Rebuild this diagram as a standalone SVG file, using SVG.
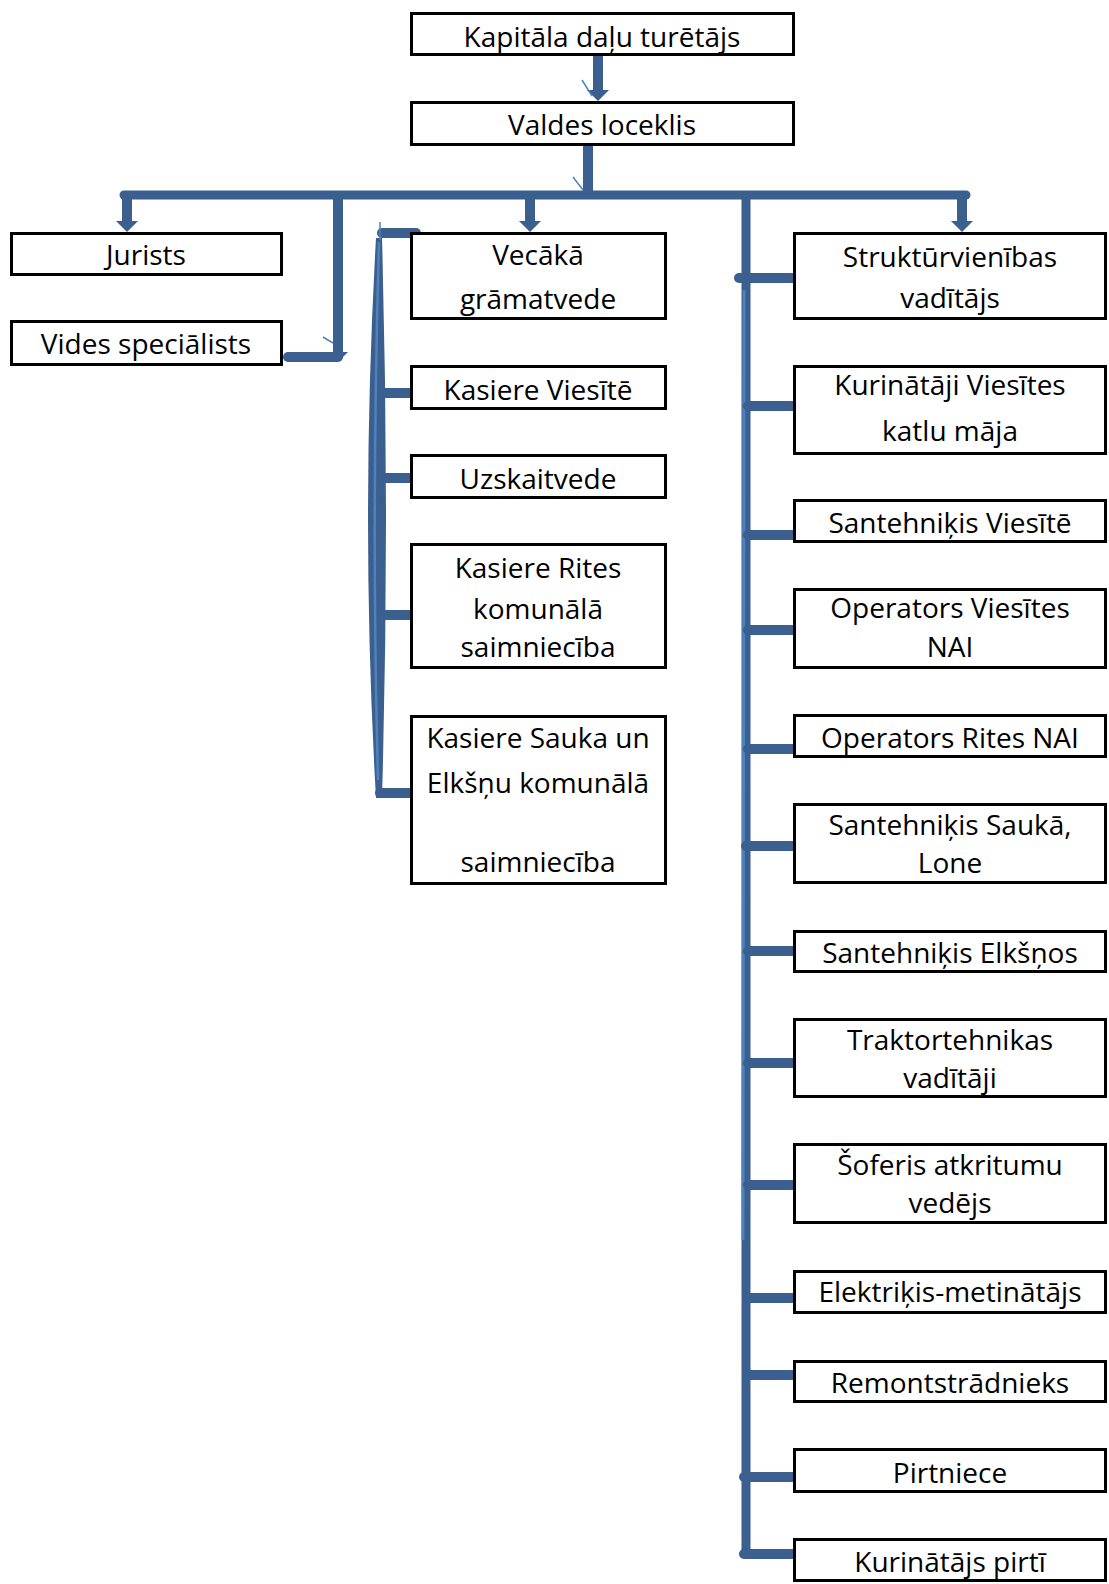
<svg xmlns="http://www.w3.org/2000/svg" width="1109" height="1584" viewBox="0 0 1109 1584">
<defs>
<style>
.box{fill:#fff;stroke:#000;stroke-width:3}
.t{font-family:"Open Sans","Noto Sans","Liberation Sans",sans-serif;font-size:28px;fill:#000;text-anchor:middle}
.c{fill:none;stroke:#3B5F8F;stroke-width:10;stroke-linecap:round}
.thin{fill:none;stroke:#4F81BD;stroke-width:1.5}
</style>
<marker id="ah" markerUnits="userSpaceOnUse" viewBox="0 0 11 22" markerWidth="11" markerHeight="22" refX="0" refY="11" orient="auto">
<path d="M0,0 L11,11 L0,22 Z" fill="#3B5F8F"/>
</marker>
</defs>
<rect width="1109" height="1584" fill="#fff"/>

<g id="connectors">
<path class="c" style="stroke-linecap:butt" d="M598,56 V90" marker-end="url(#ah)"/>
<path class="c" style="stroke-linecap:butt" d="M588,146 V196"/>
<path class="c" style="stroke-width:9" d="M124,195 H966"/>
<path class="c" style="stroke-linecap:butt" d="M127,195 V221" marker-end="url(#ah)"/>
<path class="c" style="stroke-linecap:butt" d="M530,195 V221" marker-end="url(#ah)"/>
<path class="c" style="stroke-linecap:butt" d="M962,195 V221" marker-end="url(#ah)"/>
<path class="c" style="stroke-linecap:butt" d="M338,195 V356"/>
<path class="c" d="M338,357 H288"/>
<path d="M329,352 L348,352 L338,362 Z" fill="#3B5F8F"/>
<path d="M376,238 Q360,520 376,798 L382,798 Q390,520 382,238 Z" fill="#3B5F8F"/>
<path class="thin" style="stroke-width:2.5" d="M379,242 Q371,520 378,780"/>
<path class="c" d="M416,233 H382"/>
<path class="c" d="M416,393 H383"/>
<path class="c" d="M416,478 H383"/>
<path class="c" d="M416,615 H382"/>
<path class="c" d="M416,793 H380"/>
<path class="c" style="stroke-width:9;stroke-linecap:butt" d="M746,195 V1558"/>
<path class="thin" style="stroke-width:3" d="M744,290 L743,1240"/>
<path class="c" d="M793,278 H739"/>
<path class="c" d="M793,406 H748"/>
<path class="c" d="M793,535 H748"/>
<path class="c" d="M793,630 H748"/>
<path class="c" d="M793,749 H748"/>
<path class="c" d="M793,846 H746"/>
<path class="c" d="M793,951 H748"/>
<path class="c" d="M793,1063 H748"/>
<path class="c" d="M793,1185 H748"/>
<path class="c" d="M793,1298 H748"/>
<path class="c" d="M793,1375 H748"/>
<path class="c" d="M793,1477 H744"/>
<path class="c" d="M793,1554 H744"/>
<path class="thin" d="M582,80 L592,96"/>
<path class="thin" d="M573,177 L583,190"/>
<path class="thin" d="M323,337 L333,343"/>
<path class="thin" d="M380,222 V240"/>
<path class="thin" d="M415,236 V260"/>
</g>

<g id="n-kapitala"><rect class="box" x="411.5" y="13.5" width="382" height="41"/><text class="t" x="602" y="47">Kapitāla daļu turētājs</text></g>
<g id="n-valdes"><rect class="box" x="411.5" y="102.5" width="382" height="42"/><text class="t" x="602" y="135">Valdes loceklis</text></g>
<g id="n-jurists"><rect class="box" x="11.5" y="233.5" width="270" height="41"/><text class="t" x="146" y="265">Jurists</text></g>
<g id="n-vides"><rect class="box" x="11.5" y="321.5" width="270" height="43"/><text class="t" x="146" y="354">Vides speciālists</text></g>

<g id="n-vecaka"><rect class="box" x="411.5" y="233.5" width="254" height="85"/><text class="t" x="538" y="265">Vecākā</text><text class="t" x="538" y="309">grāmatvede</text></g>
<g id="n-kasviesite"><rect class="box" x="411.5" y="366.5" width="254" height="42"/><text class="t" x="538" y="400">Kasiere Viesītē</text></g>
<g id="n-uzskaitvede"><rect class="box" x="411.5" y="455.5" width="254" height="42"/><text class="t" x="538" y="489">Uzskaitvede</text></g>
<g id="n-kasrites"><rect class="box" x="411.5" y="544.5" width="254" height="123"/><text class="t" x="538" y="578">Kasiere Rites</text><text class="t" x="538" y="619">komunālā</text><text class="t" x="538" y="657">saimniecība</text></g>
<g id="n-kassauka"><rect class="box" x="411.5" y="716.5" width="254" height="167"/><text class="t" x="538" y="748">Kasiere Sauka un</text><text class="t" x="538" y="793">Elkšņu komunālā</text><text class="t" x="538" y="872">saimniecība</text></g>

<g id="n-strukt"><rect class="box" x="794.5" y="233.5" width="311" height="85"/><text class="t" x="950" y="267">Struktūrvienības</text><text class="t" x="950" y="308">vadītājs</text></g>
<g id="n-kurinataji"><rect class="box" x="794.5" y="366.5" width="311" height="87"/><text class="t" x="950" y="395">Kurinātāji Viesītes</text><text class="t" x="950" y="441">katlu māja</text></g>
<g id="n-santviesite"><rect class="box" x="794.5" y="500.5" width="311" height="41"/><text class="t" x="950" y="533">Santehniķis Viesītē</text></g>
<g id="n-opviesites"><rect class="box" x="794.5" y="589.5" width="311" height="78"/><text class="t" x="950" y="618">Operators Viesītes</text><text class="t" x="950" y="657">NAI</text></g>
<g id="n-oprites"><rect class="box" x="794.5" y="715.5" width="311" height="41"/><text class="t" x="950" y="748">Operators Rites NAI</text></g>
<g id="n-santsauka"><rect class="box" x="794.5" y="804.5" width="311" height="78"/><text class="t" x="950" y="835">Santehniķis Saukā,</text><text class="t" x="950" y="873">Lone</text></g>
<g id="n-santelk"><rect class="box" x="794.5" y="931.5" width="311" height="40"/><text class="t" x="950" y="963">Santehniķis Elkšņos</text></g>
<g id="n-trakt"><rect class="box" x="794.5" y="1019.5" width="311" height="77"/><text class="t" x="950" y="1050">Traktortehnikas</text><text class="t" x="950" y="1088">vadītāji</text></g>
<g id="n-sof"><rect class="box" x="794.5" y="1144.5" width="311" height="78"/><text class="t" x="950" y="1175">Šoferis atkritumu</text><text class="t" x="950" y="1213">vedējs</text></g>
<g id="n-elektr"><rect class="box" x="794.5" y="1271.5" width="311" height="41"/><text class="t" x="950" y="1302">Elektriķis-metinātājs</text></g>
<g id="n-remont"><rect class="box" x="794.5" y="1361.5" width="311" height="40"/><text class="t" x="950" y="1393">Remontstrādnieks</text></g>
<g id="n-pirtniece"><rect class="box" x="794.5" y="1449.5" width="311" height="42"/><text class="t" x="950" y="1483">Pirtniece</text></g>
<g id="n-kurpirti"><rect class="box" x="794.5" y="1539.5" width="311" height="41"/><text class="t" x="950" y="1572">Kurinātājs pirtī</text></g>
</svg>
